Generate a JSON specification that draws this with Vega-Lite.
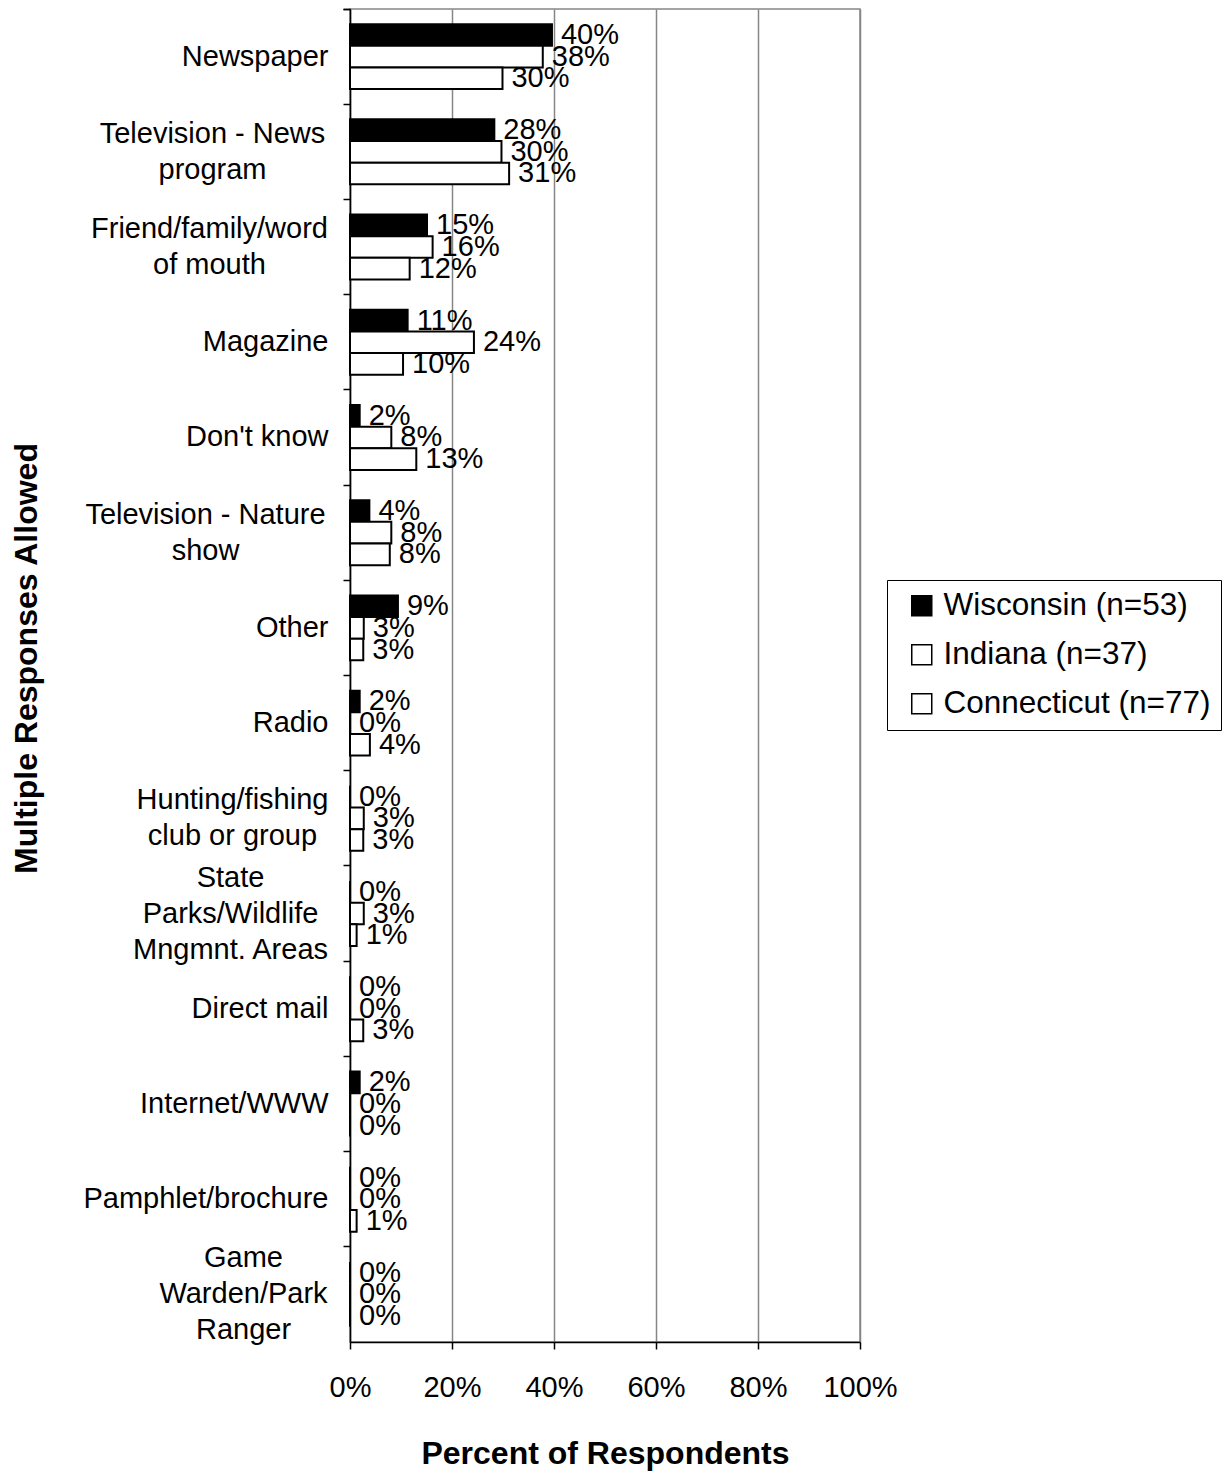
{
  "$schema": "https://vega.github.io/schema/vega-lite/v6.json",
  "width": 510,
  "height": 1333,
  "autosize": {"type": "none"},
  "padding": {"left": 350, "top": 9, "right": 365, "bottom": 129},
  "background": "white",
  "config": {
    "font": "Liberation Sans",
    "view": {"stroke": "#868686", "strokeWidth": 1.5},
    "axis": {
      "domainColor": "black",
      "domainWidth": 1.5,
      "tickColor": "black",
      "tickWidth": 1.5,
      "tickSize": 7,
      "labelColor": "black",
      "labelFont": "Liberation Sans",
      "labelFontSize": 29,
      "titleFont": "Liberation Sans",
      "titleFontSize": 32,
      "titleFontWeight": "bold",
      "titleColor": "black"
    }
  },
  "data": {
    "values": [
      {"source": "Newspaper", "state": "Wisconsin (n=53)", "pct": 0.396},
      {"source": "Newspaper", "state": "Indiana (n=37)", "pct": 0.378},
      {"source": "Newspaper", "state": "Connecticut (n=77)", "pct": 0.299},
      {"source": "Television - News program", "state": "Wisconsin (n=53)", "pct": 0.283},
      {"source": "Television - News program", "state": "Indiana (n=37)", "pct": 0.297},
      {"source": "Television - News program", "state": "Connecticut (n=77)", "pct": 0.312},
      {"source": "Friend/family/word of mouth", "state": "Wisconsin (n=53)", "pct": 0.151},
      {"source": "Friend/family/word of mouth", "state": "Indiana (n=37)", "pct": 0.162},
      {"source": "Friend/family/word of mouth", "state": "Connecticut (n=77)", "pct": 0.117},
      {"source": "Magazine", "state": "Wisconsin (n=53)", "pct": 0.113},
      {"source": "Magazine", "state": "Indiana (n=37)", "pct": 0.243},
      {"source": "Magazine", "state": "Connecticut (n=77)", "pct": 0.104},
      {"source": "Don't know", "state": "Wisconsin (n=53)", "pct": 0.019},
      {"source": "Don't know", "state": "Indiana (n=37)", "pct": 0.081},
      {"source": "Don't know", "state": "Connecticut (n=77)", "pct": 0.13},
      {"source": "Television - Nature show", "state": "Wisconsin (n=53)", "pct": 0.038},
      {"source": "Television - Nature show", "state": "Indiana (n=37)", "pct": 0.081},
      {"source": "Television - Nature show", "state": "Connecticut (n=77)", "pct": 0.078},
      {"source": "Other", "state": "Wisconsin (n=53)", "pct": 0.094},
      {"source": "Other", "state": "Indiana (n=37)", "pct": 0.027},
      {"source": "Other", "state": "Connecticut (n=77)", "pct": 0.026},
      {"source": "Radio", "state": "Wisconsin (n=53)", "pct": 0.019},
      {"source": "Radio", "state": "Indiana (n=37)", "pct": 0},
      {"source": "Radio", "state": "Connecticut (n=77)", "pct": 0.039},
      {"source": "Hunting/fishing club or group", "state": "Wisconsin (n=53)", "pct": 0},
      {"source": "Hunting/fishing club or group", "state": "Indiana (n=37)", "pct": 0.027},
      {"source": "Hunting/fishing club or group", "state": "Connecticut (n=77)", "pct": 0.026},
      {"source": "State Parks/Wildlife Mngmnt. Areas", "state": "Wisconsin (n=53)", "pct": 0},
      {"source": "State Parks/Wildlife Mngmnt. Areas", "state": "Indiana (n=37)", "pct": 0.027},
      {"source": "State Parks/Wildlife Mngmnt. Areas", "state": "Connecticut (n=77)", "pct": 0.013},
      {"source": "Direct mail", "state": "Wisconsin (n=53)", "pct": 0},
      {"source": "Direct mail", "state": "Indiana (n=37)", "pct": 0},
      {"source": "Direct mail", "state": "Connecticut (n=77)", "pct": 0.026},
      {"source": "Internet/WWW", "state": "Wisconsin (n=53)", "pct": 0.019},
      {"source": "Internet/WWW", "state": "Indiana (n=37)", "pct": 0},
      {"source": "Internet/WWW", "state": "Connecticut (n=77)", "pct": 0},
      {"source": "Pamphlet/brochure", "state": "Wisconsin (n=53)", "pct": 0},
      {"source": "Pamphlet/brochure", "state": "Indiana (n=37)", "pct": 0},
      {"source": "Pamphlet/brochure", "state": "Connecticut (n=77)", "pct": 0.013},
      {"source": "Game Warden/Park Ranger", "state": "Wisconsin (n=53)", "pct": 0},
      {"source": "Game Warden/Park Ranger", "state": "Indiana (n=37)", "pct": 0},
      {"source": "Game Warden/Park Ranger", "state": "Connecticut (n=77)", "pct": 0}
    ]
  },
  "encoding": {
    "y": {
      "field": "source",
      "type": "nominal",
      "sort": null,
      "scale": {"paddingInner": 0, "paddingOuter": 0},
      "axis": {
        "title": "Multiple Responses Allowed",
        "titleAngle": -90,
        "titleBaseline": "alphabetic",
        "titleAlign": "center",
        "titleX": -314,
        "titleY": 649,
        "bandPosition": 0,
        "tickExtra": true,
        "labelLineHeight": 36,
        "labelLimit": 400,
        "grid": false,
        "labelOffset": {
          "condition": [
            {"test": "datum.value == 'State Parks/Wildlife Mngmnt. Areas' || datum.value == 'Game Warden/Park Ranger'", "value": -36},
            {"test": "datum.value == 'Television - News program' || datum.value == 'Friend/family/word of mouth' || datum.value == 'Hunting/fishing club or group' || datum.value == 'Television - Nature show'", "value": -18}
          ],
          "value": 0
        },
        "labelAlign": {
          "condition": {"test": "indexof(['Television - News program', 'Friend/family/word of mouth', 'Hunting/fishing club or group', 'State Parks/Wildlife Mngmnt. Areas', 'Television - Nature show', 'Game Warden/Park Ranger'], datum.value) >= 0", "value": "center"},
          "value": "right"
        },
        "labelPadding": {
          "condition": [
            {"test": "datum.value == 'Television - News program'", "value": 131},
            {"test": "datum.value == 'Friend/family/word of mouth'", "value": 134},
            {"test": "datum.value == 'Hunting/fishing club or group'", "value": 111},
            {"test": "datum.value == 'State Parks/Wildlife Mngmnt. Areas'", "value": 113},
            {"test": "datum.value == 'Television - Nature show'", "value": 138},
            {"test": "datum.value == 'Game Warden/Park Ranger'", "value": 100}
          ],
          "value": 15
        },
        "labelExpr": "datum.value == 'Television - News program' ? ['Television - News', 'program'] : datum.value == 'Friend/family/word of mouth' ? ['Friend/family/word', 'of mouth'] : datum.value == 'Hunting/fishing club or group' ? ['Hunting/fishing', 'club or group'] : datum.value == 'State Parks/Wildlife Mngmnt. Areas' ? ['State', 'Parks/Wildlife', 'Mngmnt. Areas'] : datum.value == 'Television - Nature show' ? ['Television - Nature', 'show'] : datum.value == 'Game Warden/Park Ranger' ? ['Game', 'Warden/Park', 'Ranger'] : datum.label"
      }
    },
    "yOffset": {
      "field": "state",
      "type": "nominal",
      "sort": ["Wisconsin (n=53)", "Indiana (n=37)", "Connecticut (n=77)"],
      "scale": {"paddingInner": 0, "paddingOuter": 0.7}
    },
    "x": {
      "field": "pct",
      "type": "quantitative",
      "scale": {"domain": [0, 1]},
      "axis": {
        "title": "Percent of Respondents",
        "titleY": 96,
        "titleBaseline": "top",
        "values": [0, 0.2, 0.4, 0.6, 0.8, 1],
        "format": ".0%",
        "grid": true,
        "gridColor": "#868686",
        "gridWidth": 1.5,
        "labelPadding": 24,
        "labelFlush": false,
        "labelOverlap": false
      }
    }
  },
  "layer": [
    {
      "mark": {"type": "bar", "stroke": "black", "strokeWidth": 2},
      "encoding": {
        "color": {
          "field": "state",
          "type": "nominal",
          "scale": {
            "domain": ["Wisconsin (n=53)", "Indiana (n=37)", "Connecticut (n=77)"],
            "range": ["black", "white", "white"]
          },
          "legend": {
            "title": null,
            "orient": "none",
            "legendX": 537,
            "legendY": 571,
            "strokeColor": "black",
            "fillColor": "white",
            "padding": 10,
            "labelFont": "Liberation Sans",
            "labelFontSize": 31.5,
            "labelColor": "black",
            "symbolType": "square",
            "symbolSize": 400,
            "symbolStrokeColor": "black",
            "symbolStrokeWidth": 1.5,
            "symbolOffset": 9,
            "labelOffset": 6,
            "rowPadding": 16,
            "labelLimit": 400
          }
        }
      }
    },
    {
      "mark": {"type": "text", "align": "left", "baseline": "middle", "dx": 9, "fontSize": 29, "color": "black", "font": "Liberation Sans"},
      "encoding": {
        "text": {"field": "pct", "type": "quantitative", "format": ".0%"}
      }
    }
  ]
}
